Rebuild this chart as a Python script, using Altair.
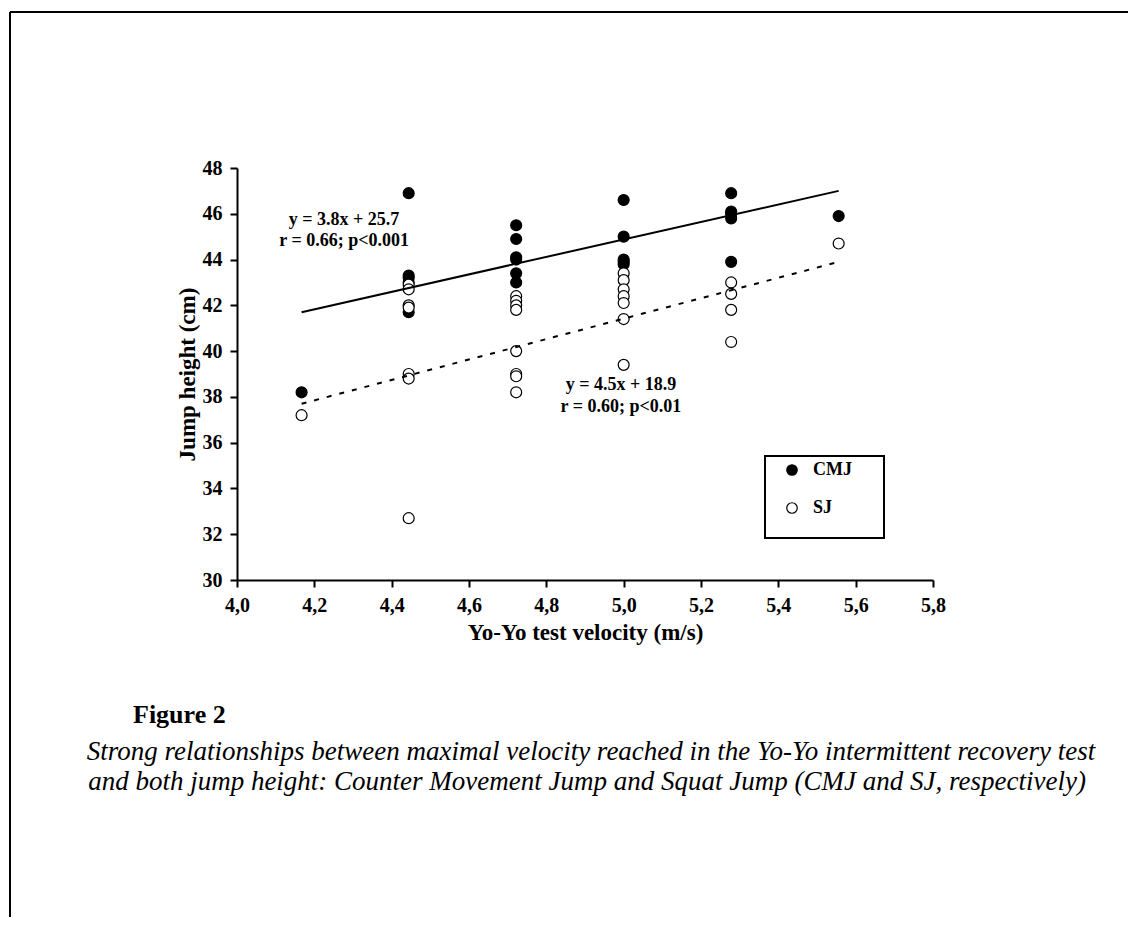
import altair as alt
import pandas as pd

# ---- data ----
x_levels = [4.167, 4.444, 4.722, 5.0, 5.278, 5.556]
cmj_values = [
    [38.2],
    [46.9, 43.3, 43.2, 43.0, 41.7],
    [45.5, 44.9, 44.1, 44.0, 43.4, 43.0],
    [46.6, 45.0, 44.0, 43.9, 43.8],
    [46.9, 46.1, 46.0, 45.8, 43.9],
    [45.9],
]
sj_values = [
    [37.2],
    [42.9, 42.7, 42.0, 41.9, 39.0, 38.8, 32.7],
    [42.4, 42.2, 42.0, 41.8, 40.0, 39.0, 38.9, 38.2],
    [43.4, 43.1, 42.7, 42.4, 42.1, 41.4, 39.4],
    [43.0, 42.5, 41.8, 40.4],
    [44.7],
]
series_names = ["CMJ", "SJ"]

fit_x = [4.167, 5.556]
cmj_fit = [41.7, 47.0]
sj_fit = [37.7, 43.9]

ann_text = ["y = 3.8x + 25.7", "r = 0.66; p<0.001", "y = 4.5x + 18.9", "r = 0.60; p<0.01"]
ann_x = [4.277, 4.277, 4.993, 4.993]
ann_y = [45.74, 44.80, 38.54, 37.56]

x_ticks = [4.0, 4.2, 4.4, 4.6, 4.8, 5.0, 5.2, 5.4, 5.6, 5.8]
y_ticks = [30, 32, 34, 36, 38, 40, 42, 44, 46, 48]

fig_label = "Figure 2"
caption_lines = [
    "Strong relationships between maximal velocity reached in the Yo-Yo intermittent recovery test",
    "and both jump height: Counter Movement Jump and Squat Jump (CMJ and SJ, respectively)",
]

# ---- tables ----
rows = []
for name, vals in zip(series_names, [cmj_values, sj_values]):
    for xv, col in zip(x_levels, vals):
        for yv in col:
            rows.append({"x": xv, "y": yv, "series": name})
points_df = pd.DataFrame(rows)
cmj_fit_df = pd.DataFrame({"x": fit_x, "y": cmj_fit})
sj_fit_df = pd.DataFrame({"x": fit_x, "y": sj_fit})
ann_df = pd.DataFrame({"x": ann_x, "y": ann_y, "t": ann_text})
one = pd.DataFrame({"a": [0]})

FONT = "Liberation Serif"
W, H = 696, 412

x_enc = alt.X(
    "x:Q",
    scale=alt.Scale(domain=[4.0, 5.8], nice=False, zero=False),
    axis=alt.Axis(
        values=x_ticks,
        labelExpr="replace(format(datum.value, '.1f'), '.', ',')",
        title="Yo-Yo test velocity (m/s)",
        grid=False,
        domainColor="black", domainWidth=2,
        tickColor="black", tickWidth=2, tickSize=7,
        labelFont=FONT, labelFontWeight="bold", labelFontSize=20, labelColor="black",
        labelPadding=8, labelFlush=False, labelOverlap=False,
        titleFont=FONT, titleFontWeight="bold", titleFontSize=23, titleColor="black",
        titlePadding=6,
    ),
)
y_enc = alt.Y(
    "y:Q",
    scale=alt.Scale(domain=[30, 48], nice=False, zero=False),
    axis=alt.Axis(
        values=y_ticks,
        format="d",
        title="Jump height (cm)",
        grid=False,
        domainColor="black", domainWidth=2,
        tickColor="black", tickWidth=2, tickSize=7,
        labelFont=FONT, labelFontWeight="bold", labelFontSize=20, labelColor="black",
        labelPadding=8, labelFlush=False, labelOverlap=False,
        titleFont=FONT, titleFontWeight="bold", titleFontSize=23, titleColor="black",
        titlePadding=3,
    ),
)

points = alt.Chart(points_df).mark_circle(
    size=120, stroke="black", strokeWidth=1.2, opacity=1
).encode(
    x=x_enc,
    y=y_enc,
    fill=alt.Fill(
        "series:N",
        scale=alt.Scale(domain=series_names, range=["black", "white"]),
        legend=alt.Legend(
            title=None, orient="none", legendX=546, legendY=293,
            labelFont=FONT, labelFontWeight="bold", labelFontSize=18, labelColor="black",
            symbolType="circle", symbolSize=110, symbolStrokeColor="black",
            symbolStrokeWidth=1.2, rowPadding=20, labelOffset=12, padding=0,
        ),
    ),
)

cmj_line = alt.Chart(cmj_fit_df).mark_line(color="black", strokeWidth=2).encode(x="x:Q", y="y:Q")
sj_line = alt.Chart(sj_fit_df).mark_line(color="black", strokeWidth=2, strokeDash=[5, 8]).encode(x="x:Q", y="y:Q")

ann = alt.Chart(ann_df).mark_text(
    font=FONT, fontWeight="bold", fontSize=18, align="center", baseline="middle", color="black"
).encode(x="x:Q", y="y:Q", text="t:N")

legend_box = alt.Chart(one).mark_rect(fill="transparent", stroke="black", strokeWidth=2).encode(
    x=alt.value(528), x2=alt.value(647), y=alt.value(288), y2=alt.value(370)
)

border_top = alt.Chart(one).mark_rule(color="black", strokeWidth=2).encode(
    x=alt.value(-227), x2=alt.value(1000), y=alt.value(-156)
)
border_left = alt.Chart(one).mark_rule(color="black", strokeWidth=2).encode(
    x=alt.value(-227), y=alt.value(-156), y2=alt.value(800)
)

fig_text = alt.Chart(one).mark_text(
    font=FONT, fontWeight="bold", fontSize=26, align="left", baseline="alphabetic", color="black"
).encode(x=alt.value(-104), y=alt.value(555), text=alt.value(fig_label))

cap1 = alt.Chart(one).mark_text(
    font=FONT, fontStyle="italic", fontSize=27, align="center", baseline="alphabetic", color="black"
).encode(x=alt.value(354), y=alt.value(592), text=alt.value(caption_lines[0]))
cap2 = alt.Chart(one).mark_text(
    font=FONT, fontStyle="italic", fontSize=27, align="center", baseline="alphabetic", color="black"
).encode(x=alt.value(350), y=alt.value(622), text=alt.value(caption_lines[1]))

chart = alt.layer(
    border_top, border_left, points, cmj_line, sj_line, ann,
    legend_box, fig_text, cap1, cap2
).properties(
    width=W, height=H,
    padding={"left": 229, "top": 160, "right": 195, "bottom": 337},
    autosize=alt.AutoSizeParams(type="none"),
    background="white",
).configure_view(stroke=None).configure_axis(grid=False)

chart.save("out.html", embed_options={"renderer": "svg", "actions": False})
